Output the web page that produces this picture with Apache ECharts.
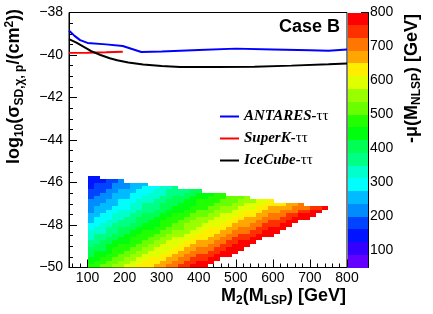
<!DOCTYPE html>
<html><head><meta charset="utf-8">
<script src="https://cdn.jsdelivr.net/npm/echarts@6/dist/echarts.min.js"></script>
<style>html,body{margin:0;padding:0;background:#fff}#c{width:433px;height:314px}</style>
</head><body><div id="c"></div>
<script>
// ---------------- data ----------------
// M2 bins (GeV) and log10(sigma) bins of the scan
const m2First = 100;
const m2Width = 16.2;
const logSigTop = -45.68;
const logSigHeight = 0.16;
// -mu(M_NLSP) band of every cell: one string per M2 bin, top row first, '.' = empty
// letters a..t = colour bands 0..19 of muLevels
const muColumns = [
"ccccdddeeeefffgghhhiijjjkkl",
"ccddddeeefffggghhiiijjkkkll",
".cdddeeefffggghhhiijjjkkllm",
".dddeeefffggghhiiijjkkkllmm",
".deeeffffgghhhiiijjkklllmmn",
".eeefffggghhhiijjjkklllmmnn",
"..eefffggghhiiijjkkkllmmnno",
"..fffggghhhiiijjkklllmmnnoo",
"..ffggghhhiijjjkklllmmnnoop",
"..fggghhiiijjjkklllmmnnoopp",
"...gghhhiiijjkkkllmmnnooppp",
"...ghhhiiijjkkkllmmnnoooppq",
"...hhhiijjjkklllmmnnoooppqq",
"...hiiijjjkklllmmnnoooppqqr",
"...iiijjjkklllmmnnoooppqqrr",
"....iijjkkkllmmmnnooppqqrrs",
"....ijjkkkllmmnnnooppqqrrss",
"....jjkkkllmmnnnooppqqrrsst",
"....jkklllmmnnnooppqqrrsstt",
".....kklllmmnnoopppqqrrsstt",
".....klllmmnnoopppqqrrsstt.",
".....lllmmnnoooppqqrrsstt..",
".....llmmnnoooppqqrrsstt...",
"......mmmnnooppqqrrssttt...",
"......mmnnooppqqrrssttt....",
"......mnnooppqqrrssttt.....",
"......nnooppqqqrrsstt......",
".......nooppqqrrsstt.......",
".......ooppqqrrsstt........",
".......oppqqrrsstt.........",
".......ppqqrrssttt.........",
"........pqqrrsstt..........",
"........pqrrsstt...........",
"........qqrsstt............",
"........qrrstt.............",
"........rrstt..............",
".........rstt..............",
".........stt...............",
".........st................",
".........t................."
];
const muLevels = [50,87.5,125,162.5,200,237.5,275,312.5,350,387.5,425,462.5,500,537.5,575,612.5,650,687.5,725,762.5,800];

const antares = [[50,-38.85],[65,-39.1],[80,-39.3],[100,-39.43],[150,-39.5],[195,-39.58],[220,-39.72],[245,-39.86],[300,-39.84],[400,-39.77],[500,-39.7],[600,-39.74],[700,-39.78],[750,-39.8],[800,-39.74]];
const superK = [[50,-39.9],[100,-39.89],[150,-39.87],[195,-39.85]];
const iceCube = [[50,-39.25],[70,-39.42],[90,-39.62],[110,-39.82],[135,-40.0],[160,-40.15],[180,-40.25],[210,-40.35],[250,-40.45],[300,-40.52],[350,-40.56],[450,-40.56],[550,-40.55],[650,-40.5],[750,-40.44],[800,-40.4]];

const xMajor = [100,200,300,400,500,600,700,800];
const xMinor = [60,80,120,140,160,180,220,240,260,280,320,340,360,380,420,440,460,480,520,540,560,580,620,640,660,680,720,740,760,780];
const zTicks = [100,200,300,400,500,600,700,800];

// ---------------- style ----------------
const bandHue = [263.2,252,235.2,224,207.2,196,179.2,168,151.2,140,123.2,112,95.2,84,67.2,56,39.2,28,11.2,0];
function hslHex(h){
  const f = n => { const k=(n + h/30)%12; return 0.5 - 0.5*Math.max(-1, Math.min(k-3, 9-k, 1)); };
  const to = v => Math.round(v*255).toString(16).padStart(2,'0');
  return '#'+to(f(0))+to(f(8))+to(f(4));
}
const palette = bandHue.map(hslHex);
const FONT = 'Liberation Sans, Arial, sans-serif';
const SERIF = 'Liberation Serif, Times New Roman, serif';

// ---------------- build ----------------
const cells = [];
muColumns.forEach((col, i) => {
  for (let r = 0; r < col.length; r++) {
    const ch = col[r];
    if (ch === '.') continue;
    const k = ch.charCodeAt(0) - 97;
    cells.push([m2First + m2Width*(i+0.5), logSigTop - logSigHeight*(r+0.5), (muLevels[k]+muLevels[k+1])/2]);
  }
});
const bands = muLevels.slice(0,-1).map((lo,k)=>[lo, muLevels[k+1], (lo+muLevels[k+1])/2]);
const pieces = bands.map((b,k)=>({gte:b[0], lt:b[1], color:palette[k]}));

function cellRender(params, api){
  // snap to exact bin edges so neighbouring cells share identical edge values
  const i = Math.round((api.value(0) - m2First)/m2Width - 0.5);
  const r = Math.round((logSigTop - api.value(1))/logSigHeight - 0.5);
  const a = api.coord([m2First + m2Width*i, logSigTop - logSigHeight*r]);
  const b = api.coord([m2First + m2Width*(i+1), logSigTop - logSigHeight*(r+1)]);
  const x0 = Math.round(a[0]), y0 = Math.round(a[1]), x1 = Math.round(b[0]), y1 = Math.round(b[1]);
  return {type:'rect', shape:{x:x0, y:y0, width:x1-x0, height:y1-y0}, style:{fill: api.visual('color'), stroke:null}};
}
function barRender(params, api){
  const a = api.coord([0, api.value(1)]);
  const b = api.coord([1, api.value(0)]);
  const x0 = Math.round(a[0]), y0 = Math.round(a[1]), x1 = Math.round(b[0]), y1 = Math.round(b[1]);
  return {type:'rect', shape:{x:x0, y:y0, width:x1-x0, height:y1-y0}, style:{fill: api.visual('color')}};
}

const chart = echarts.init(document.getElementById('c'), null, {renderer:'canvas'});
const subStyle = {fontSize:12, fontWeight:'bold', fontFamily:FONT, lineHeight:2, verticalAlign:'bottom'};
const supStyle = {fontSize:12, fontWeight:'bold', fontFamily:FONT, lineHeight:12, verticalAlign:'top'};
const titleStyle = {fontSize:18, fontWeight:'bold', fontFamily:FONT, fill:'#000', lineHeight:22};

chart.setOption({
  animation:false,
  backgroundColor:'#fff',
  textStyle:{fontFamily:FONT},
  grid:[
    {left:69, top:12.5, width:278, height:255, show:true, borderColor:'#000', borderWidth:1, backgroundColor:'transparent', outerBoundsMode:'none', containLabel:false},
    {left:348, top:12.5, width:20, height:255, show:false, outerBoundsMode:'none', containLabel:false}
  ],
  xAxis:[
    {gridIndex:0, type:'value', min:50, max:800, position:'bottom',
     axisLine:{show:true, onZero:false, lineStyle:{color:'#000', width:1}},
     axisTick:{show:true, inside:true, length:8, customValues:xMajor, lineStyle:{color:'#000'}},
     axisLabel:{show:true, customValues:xMajor, fontSize:14, color:'#000', margin:4, fontFamily:FONT},
     splitLine:{show:false}},
    {gridIndex:0, type:'value', min:50, max:800, position:'bottom',
     axisLine:{show:false, onZero:false},
     axisTick:{show:true, inside:true, length:4, customValues:xMinor, lineStyle:{color:'#000'}},
     axisLabel:{show:false}, splitLine:{show:false}},
    {gridIndex:1, type:'value', min:0, max:1, show:false}
  ],
  yAxis:[
    {gridIndex:0, type:'value', min:-50, max:-38, interval:2,
     axisLine:{show:true, onZero:false, lineStyle:{color:'#000', width:1}},
     axisTick:{show:true, inside:true, length:8, lineStyle:{color:'#000'}},
     minorTick:{show:true, splitNumber:4, length:4, lineStyle:{color:'#000'}},
     axisLabel:{fontSize:14, color:'#000', margin:6, fontFamily:FONT, formatter:v=>(v<0?'\u2212':'')+Math.abs(v)},
     splitLine:{show:false}, minorSplitLine:{show:false}},
    {gridIndex:1, type:'value', min:50, max:800, position:'right',
     axisLine:{show:true, onZero:false, lineStyle:{color:'#000', width:1}},
     axisTick:{show:true, inside:true, length:7, customValues:zTicks, lineStyle:{color:'#000'}},
     axisLabel:{show:true, customValues:zTicks, fontSize:14, color:'#000', margin:2, fontFamily:FONT},
     splitLine:{show:false}}
  ],
  visualMap:{type:'piecewise', show:false, dimension:2, seriesIndex:[0,4], pieces:pieces},
  legend:{
    orient:'vertical', left:220, top:109, padding:0, itemGap:7, itemWidth:19, itemHeight:2, icon:'rect',
    data:['ANTARES','SuperK','IceCube'],
    formatter: name => '{a|'+name+'-}{b|\u03c4\u03c4}',
    textStyle:{fontSize:15, color:'#000', rich:{
      a:{fontSize:15, fontFamily:SERIF, fontStyle:'italic', fontWeight:'bold', color:'#000'},
      b:{fontSize:15, fontFamily:SERIF, fontStyle:'normal', fontWeight:'normal', color:'#000'}
    }}
  },
  series:[
    {type:'custom', name:'cells', xAxisIndex:0, yAxisIndex:0, renderItem:cellRender, data:cells, clip:true, z:1, silent:true},
    {type:'line', name:'ANTARES', xAxisIndex:0, yAxisIndex:0, data:antares, showSymbol:false, color:'#0000ff', lineStyle:{color:'#0000ff', width:2}, z:5},
    {type:'line', name:'SuperK', xAxisIndex:0, yAxisIndex:0, data:superK, showSymbol:false, color:'#ff0000', lineStyle:{color:'#ff0000', width:2}, z:5},
    {type:'line', name:'IceCube', xAxisIndex:0, yAxisIndex:0, data:iceCube, showSymbol:false, color:'#000000', lineStyle:{color:'#000000', width:2}, z:5},
    {type:'custom', name:'palette', xAxisIndex:2, yAxisIndex:1, renderItem:barRender, data:bands, encode:{y:[0,1]}, z:1, silent:true}
  ],
  graphic:[
    {type:'text', x:340, y:26.7, silent:true,
     style:{text:'Case B', fontSize:18, fontWeight:'bold', fontFamily:FONT, fill:'#000', align:'right', verticalAlign:'middle'}},
    {type:'text', x:346, y:285, silent:true,
     style:Object.assign({text:'M{s|2}(M{s|LSP}) [GeV]', align:'right', verticalAlign:'top', rich:{s:subStyle}}, titleStyle)},
    {type:'text', x:3.5, y:86.5, rotation:Math.PI/2, silent:true,
     style:Object.assign({text:'log{s|10}(\u03c3{s|SD,\u03c7, p}/(cm{p|2}))', align:'center', verticalAlign:'top', rich:{s:subStyle, p:supStyle}}, titleStyle)},
    {type:'text', x:401, y:78.5, rotation:Math.PI/2, silent:true,
     style:Object.assign({text:'-\u03bc(M{s|NLSP}) [GeV]', align:'center', verticalAlign:'top', rich:{s:subStyle}}, titleStyle)}
  ]
});
</script></body></html>
